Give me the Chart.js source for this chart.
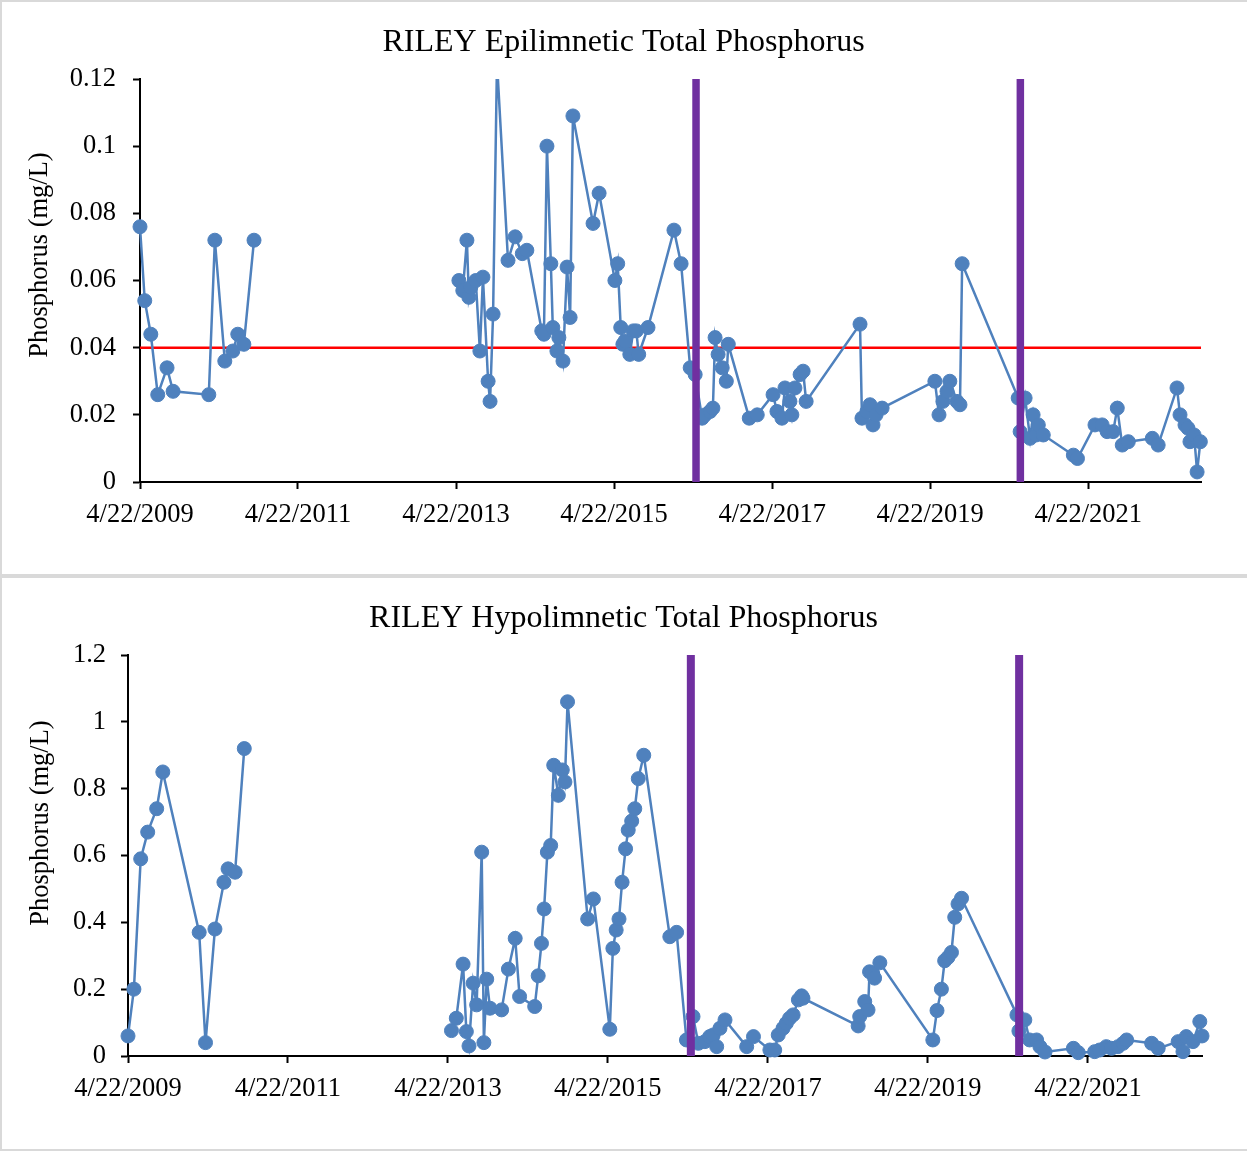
<!DOCTYPE html>
<html>
<head>
<meta charset="utf-8">
<title>RILEY Total Phosphorus</title>
<script src="https://cdn.jsdelivr.net/npm/chart.js@4.4.1/dist/chart.umd.min.js"></script>
<style>
  html, body { margin: 0; padding: 0; background: #fff; }
  body { width: 1247px; height: 1151px; position: relative; overflow: hidden; }
  .panel { position: absolute; left: 0; width: 1260px; box-sizing: border-box; border: 2px solid #d9d9d9; }
  #panelTop { top: 0; height: 576px; }
  #panelBottom { top: 576px; height: 575px; }
  canvas { position: absolute; left: 0; }
  #epiChart { top: 0; }
  #hypoChart { top: 576px; }
</style>
</head>
<body>
<div class="panel" id="panelTop"></div>
<div class="panel" id="panelBottom"></div>
<canvas id="epiChart" width="1247" height="576"></canvas>
<canvas id="hypoChart" width="1247" height="575"></canvas>

<script>
/* =========================
   DATA
========================= */
const xTickLabels = ["4/22/2009", "4/22/2011", "4/22/2013", "4/22/2015", "4/22/2017", "4/22/2019", "4/22/2021"];
const xRange = ["2009-04-22", "2022-09-25"];
const treatmentDates = ["2016-05-05", "2020-06-12"];

const epiTicks = [0, 0.02, 0.04, 0.06, 0.08, 0.1, 0.12];
const hypoTicks = [0, 0.2, 0.4, 0.6, 0.8, 1, 1.2];
const epiTarget = 0.04;

// null = no sampling (2011-2012), the line breaks there
const epiDates = [
  "2009-04-22", "2009-05-14", "2009-06-11", "2009-07-13", "2009-08-25", "2009-09-22",
  "2010-03-06", "2010-04-03", "2010-05-19", "2010-06-25", "2010-07-18", "2010-08-15", "2010-10-01",
  "2012-01-01",
  "2013-05-05", "2013-05-23", "2013-06-11", "2013-06-20", "2013-06-29", "2013-07-22", "2013-08-10",
  "2013-08-24", "2013-09-17", "2013-09-26", "2013-10-10", "2013-10-28", "2013-12-18",
  "2014-01-20", "2014-02-22", "2014-03-15", "2014-05-23", "2014-06-02", "2014-06-16", "2014-07-04",
  "2014-07-13", "2014-08-01", "2014-08-10", "2014-08-29", "2014-09-17", "2014-10-01", "2014-10-14",
  "2015-01-15", "2015-02-12", "2015-04-26", "2015-05-09", "2015-05-23", "2015-06-02", "2015-06-12",
  "2015-07-04", "2015-07-20", "2015-08-03", "2015-08-14", "2015-09-26",
  "2016-01-24", "2016-02-26", "2016-04-08", "2016-05-01", "2016-06-02", "2016-06-16", "2016-07-09",
  "2016-07-22", "2016-08-01", "2016-08-15", "2016-09-03", "2016-09-22", "2016-10-01",
  "2017-01-06", "2017-02-12", "2017-04-26", "2017-05-14", "2017-06-06", "2017-06-20", "2017-07-13",
  "2017-07-22", "2017-08-05", "2017-08-29", "2017-09-12", "2017-09-26",
  "2018-06-02", "2018-06-11", "2018-07-04", "2018-07-18", "2018-08-01", "2018-08-15", "2018-09-12",
  "2019-05-14", "2019-06-02", "2019-06-20", "2019-07-09", "2019-07-22", "2019-08-24", "2019-09-07", "2019-09-17",
  "2020-06-02", "2020-06-11", "2020-07-04", "2020-07-27", "2020-08-10", "2020-08-24", "2020-09-03", "2020-09-26",
  "2021-02-12", "2021-03-03", "2021-05-23", "2021-06-25", "2021-07-18", "2021-08-15", "2021-09-03",
  "2021-09-26", "2021-10-24",
  "2022-02-12", "2022-03-11", "2022-06-06", "2022-06-20", "2022-07-13", "2022-07-27", "2022-08-05",
  "2022-08-24", "2022-09-07", "2022-09-22"
];
const epiTP = [
  0.076, 0.054, 0.044, 0.026, 0.034, 0.027,
  0.026, 0.072, 0.036, 0.039, 0.044, 0.041, 0.072,
  null,
  0.060, 0.057, 0.072, 0.055, 0.058, 0.060, 0.039,
  0.061, 0.030, 0.024, 0.050, 0.125, 0.066,
  0.073, 0.068, 0.069, 0.045, 0.044, 0.100, 0.065,
  0.046, 0.039, 0.043, 0.036, 0.064, 0.049, 0.109,
  0.077, 0.086, 0.060, 0.065, 0.046, 0.041, 0.042,
  0.038, 0.045, 0.045, 0.038, 0.046,
  0.075, 0.065, 0.034, 0.032, 0.019, 0.020, 0.021,
  0.022, 0.043, 0.038, 0.034, 0.030, 0.041,
  0.019, 0.020, 0.026, 0.021, 0.019, 0.028, 0.024,
  0.020, 0.028, 0.032, 0.033, 0.024,
  0.047, 0.019, 0.021, 0.023, 0.017, 0.020, 0.022,
  0.030, 0.020, 0.024, 0.027, 0.030, 0.024, 0.023, 0.065,
  0.025, 0.015, 0.025, 0.013, 0.020, 0.014, 0.017, 0.014,
  0.008, 0.007, 0.017, 0.017, 0.015, 0.015, 0.022,
  0.011, 0.012,
  0.013, 0.011, 0.028, 0.020, 0.017, 0.016, 0.012,
  0.014, 0.003, 0.012
];

const hypoDates = [
  "2009-04-22", "2009-05-19", "2009-06-19", "2009-07-21", "2009-08-31", "2009-09-28",
  "2010-03-13", "2010-04-11", "2010-05-24", "2010-07-04", "2010-07-23", "2010-08-24", "2010-10-05",
  "2012-01-01",
  "2013-05-08", "2013-05-30", "2013-06-30", "2013-07-15", "2013-07-27", "2013-08-15", "2013-08-31",
  "2013-09-23", "2013-10-03", "2013-10-16", "2013-10-31", "2013-12-23",
  "2014-01-23", "2014-02-23", "2014-03-15", "2014-05-23", "2014-06-08", "2014-06-23", "2014-07-05",
  "2014-07-20", "2014-08-04", "2014-08-18", "2014-09-08", "2014-09-26", "2014-10-08", "2014-10-20",
  "2015-01-20", "2015-02-15", "2015-05-01", "2015-05-15", "2015-05-30", "2015-06-12", "2015-06-26",
  "2015-07-12", "2015-07-24", "2015-08-09", "2015-08-23", "2015-09-08", "2015-10-03",
  "2016-01-30", "2016-03-01", "2016-04-15", "2016-05-15", "2016-06-08", "2016-07-08", "2016-07-30",
  "2016-08-15", "2016-08-31", "2016-09-15", "2016-10-08",
  "2017-01-15", "2017-02-15", "2017-05-01", "2017-05-23", "2017-06-08", "2017-06-30", "2017-07-15",
  "2017-07-30", "2017-08-15", "2017-09-08", "2017-09-23", "2017-09-29",
  "2018-06-08", "2018-06-15", "2018-07-08", "2018-07-23", "2018-07-30", "2018-08-13", "2018-08-22", "2018-09-15",
  "2019-05-15", "2019-06-03", "2019-06-23", "2019-07-08", "2019-07-23", "2019-08-08", "2019-08-23",
  "2019-09-07", "2019-09-23",
  "2020-06-02", "2020-06-11", "2020-07-08", "2020-07-30", "2020-08-31", "2020-09-15", "2020-10-08",
  "2021-02-15", "2021-03-09", "2021-05-23", "2021-06-15", "2021-07-15", "2021-08-08", "2021-09-07",
  "2021-09-30", "2021-10-16",
  "2022-02-07", "2022-03-09", "2022-06-08", "2022-06-30", "2022-07-15", "2022-08-15", "2022-09-15", "2022-09-25"
];
const hypoTP = [
  0.06, 0.20, 0.59, 0.67, 0.74, 0.85,
  0.37, 0.04, 0.38, 0.52, 0.56, 0.55, 0.92,
  null,
  0.076, 0.113, 0.275, 0.073, 0.030, 0.218, 0.153,
  0.61, 0.040, 0.23, 0.143, 0.138,
  0.26, 0.352, 0.178, 0.148, 0.24, 0.337, 0.44,
  0.61, 0.63, 0.87, 0.78, 0.856, 0.82, 1.06,
  0.41, 0.47, 0.08, 0.322, 0.377, 0.41, 0.52,
  0.62, 0.676, 0.703, 0.74, 0.83, 0.90,
  0.357, 0.37, 0.048, 0.118, 0.038, 0.043, 0.058,
  0.063, 0.028, 0.083, 0.108,
  0.028, 0.058, 0.018, 0.018, 0.063, 0.083, 0.098,
  0.113, 0.123, 0.168, 0.18, 0.173,
  0.09, 0.118, 0.163, 0.138, 0.252, 0.248, 0.233, 0.279,
  0.048, 0.136, 0.20, 0.285, 0.295, 0.31, 0.415,
  0.455, 0.472,
  0.123, 0.075, 0.108, 0.048, 0.048, 0.028, 0.012,
  0.023, 0.010, 0.013, 0.018, 0.028, 0.023, 0.028,
  0.038, 0.048,
  0.038, 0.023, 0.043, 0.013, 0.058, 0.043, 0.103, 0.06
];

/* =========================
   HELPERS
========================= */
const BLUE = "#4F81BD";
const RED = "#FF0000";
const PURPLE = "#7030A0";
const SERIF = "'Liberation Serif', 'Times New Roman', serif";

function dayNum(iso) {
  const [y, m, d] = iso.split("-").map(Number);
  return Date.UTC(y, m - 1, d) / 86400000;
}

function usDayNum(label) {
  const [m, d, y] = label.split("/").map(Number);
  return Date.UTC(y, m - 1, d) / 86400000;
}

const xMin = dayNum(xRange[0]);
const xMax = dayNum(xRange[1]);
const xTickValues = xTickLabels.map(usDayNum);

/* rotated y-axis title, placed like the original (a bit above centre) */
const yTitlePlugin = {
  id: "yTitle",
  afterDraw(chart, args, opts) {
    const ctx = chart.ctx;
    ctx.save();
    ctx.translate(opts.x, opts.y);
    ctx.rotate(-Math.PI / 2);
    ctx.font = "26.5px " + SERIF;
    ctx.fillStyle = "#000";
    ctx.textAlign = "center";
    ctx.textBaseline = "middle";
    ctx.fillText(opts.text, 0, 0);
    ctx.restore();
  }
};

function seriesPoints(dates, values) {
  return dates.map((d, i) => ({ x: dayNum(d), y: values[i] }));
}

function treatmentLines(yMax, width) {
  return treatmentDates.map(d => ({
    data: [{ x: dayNum(d), y: 0 }, { x: dayNum(d), y: yMax }],
    borderColor: PURPLE,
    borderWidth: width,
    pointRadius: 0,
    order: 0
  }));
}

/* =========================
   CHART BUILDER
========================= */
function buildChart(canvasId, cfg) {
  const yMax = cfg.yTicks[cfg.yTicks.length - 1];

  const datasets = [
    {
      data: seriesPoints(cfg.dates, cfg.values),
      borderColor: BLUE,
      backgroundColor: BLUE,
      borderWidth: 2.5,
      pointRadius: 7,
      pointBorderWidth: 1,
      pointBackgroundColor: BLUE,
      pointBorderColor: BLUE,
      tension: 0,
      spanGaps: false,
      clip: { left: 12, right: 12, top: 0, bottom: 12 },
      order: 1
    },
    ...treatmentLines(yMax, cfg.purpleWidth)
  ];

  if (cfg.target !== undefined) {
    datasets.push({
      data: [{ x: xMin, y: cfg.target }, { x: xMax, y: cfg.target }],
      borderColor: RED,
      borderWidth: 2.5,
      pointRadius: 0,
      order: 2
    });
  }

  return new Chart(document.getElementById(canvasId), {
    type: "line",
    data: { datasets },
    plugins: [yTitlePlugin],
    options: {
      responsive: false,
      devicePixelRatio: 1,
      animation: false,
      events: [],
      layout: { padding: 0 },
      plugins: {
        legend: { display: false },
        tooltip: { enabled: false },
        title: {
          display: true,
          text: cfg.title,
          color: "#000",
          font: { family: SERIF, size: 32, weight: "normal", lineHeight: 1.2 },
          padding: { top: 23, bottom: 17.6 }
        },
        yTitle: { text: "Phosphorus (mg/L)", x: cfg.yTitleX, y: cfg.yTitleY }
      },
      scales: {
        x: {
          type: "linear",
          min: xMin,
          max: xMax,
          afterBuildTicks: s => { s.ticks = xTickValues.map(v => ({ value: v })); },
          afterFit: s => { s.height = cfg.xHeight; },
          ticks: {
            color: "#000",
            font: { family: SERIF, size: 26.5 },
            padding: 10,
            maxRotation: 0,
            autoSkip: false,
            callback: v => xTickLabels[xTickValues.indexOf(v)]
          },
          grid: { drawOnChartArea: false, tickLength: 7, tickWidth: 2, tickColor: "#000" },
          border: { color: "#000", width: 2 }
        },
        y: {
          min: 0,
          max: yMax,
          afterBuildTicks: s => { s.ticks = cfg.yTicks.map(v => ({ value: v })); },
          afterFit: s => { s.width = cfg.yWidth; },
          ticks: {
            color: "#000",
            font: { family: SERIF, size: 26.5 },
            padding: cfg.yPad,
            callback: v => String(v)
          },
          grid: { drawOnChartArea: false, tickLength: 7, tickWidth: 2, tickColor: "#000" },
          border: { color: "#000", width: 2 }
        },
        // empty right-hand strip so the title centres on the whole panel
        spacer: {
          position: "right",
          display: true,
          afterFit: s => { s.width = cfg.rightPad; },
          ticks: { display: false },
          grid: { display: false },
          border: { display: false }
        }
      }
    }
  });
}

/* =========================
   DRAW
========================= */
buildChart("epiChart", {
  title: "RILEY Epilimnetic Total Phosphorus",
  dates: epiDates,
  values: epiTP,
  yTicks: epiTicks,
  target: epiTarget,
  purpleWidth: 7.5,
  yWidth: 140,
  yPad: 17,
  xHeight: 94,
  rightPad: 46,
  yTitleX: 40,
  yTitleY: 255
});

buildChart("hypoChart", {
  title: "RILEY Hypolimnetic Total Phosphorus",
  dates: hypoDates,
  values: hypoTP,
  yTicks: hypoTicks,
  purpleWidth: 8,
  yWidth: 128,
  yPad: 15,
  xHeight: 95,
  rightPad: 45,
  yTitleX: 41,
  yTitleY: 247
});
</script>
</body>
</html>
